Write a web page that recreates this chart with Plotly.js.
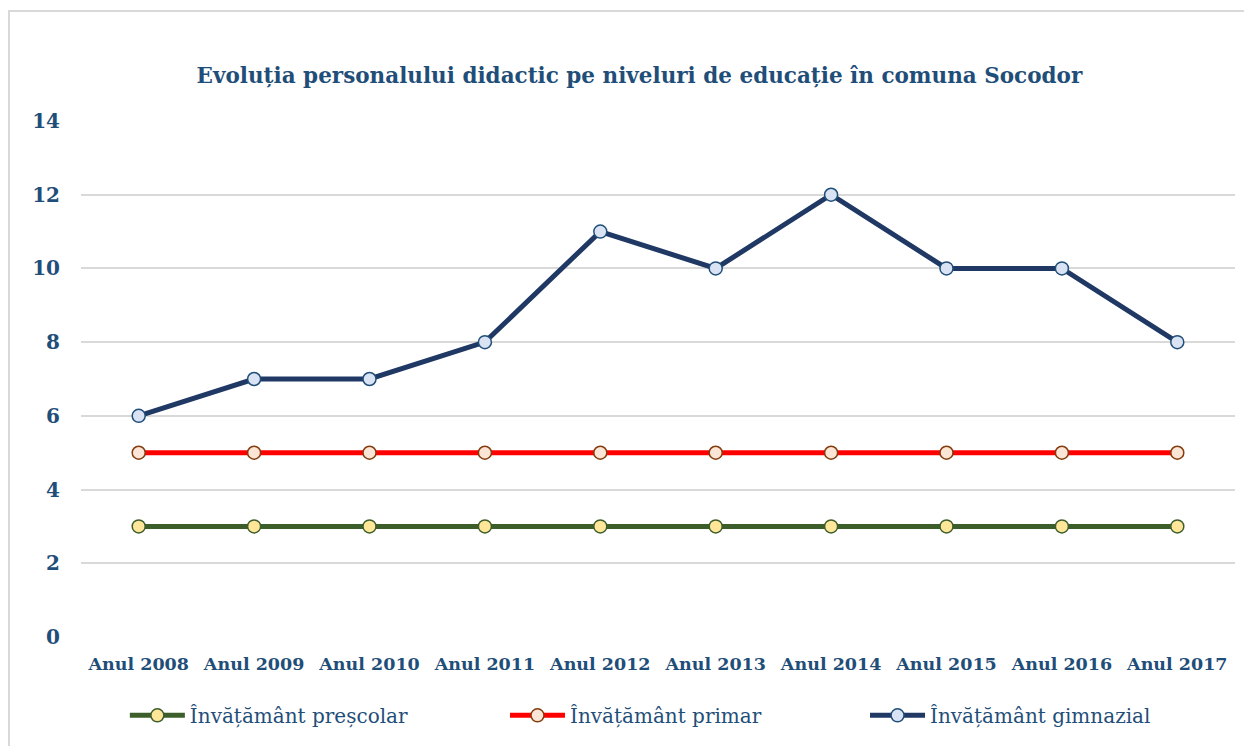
<!DOCTYPE html>
<html><head><meta charset="utf-8">
<script src="https://cdn.plot.ly/plotly-3.0.1.min.js"></script>
<style>body{margin:0;padding:0;background:#fff}#wrap{position:relative;width:1244px;height:746px}#chart{width:1244px;height:746px}#frame{position:absolute;left:8px;top:10px;width:1300px;height:800px;border-left:2px solid #d9d9d9;border-top:2px solid #d9d9d9;pointer-events:none}</style>
</head><body><div id="wrap"><div id="chart"></div><div id="frame"></div></div>
<script>
const categories = ["Anul 2008","Anul 2009","Anul 2010","Anul 2011","Anul 2012","Anul 2013","Anul 2014","Anul 2015","Anul 2016","Anul 2017"];
const prescolar = [3,3,3,3,3,3,3,3,3,3];
const primar = [5,5,5,5,5,5,5,5,5,5];
const gimnazial = [6,7,7,8,11,10,12,10,10,8];
const seriesNames = ["Învățământ preșcolar","Învățământ primar","Învățământ gimnazial"];
const titleText = "Evoluția personalului didactic pe niveluri de educație în comuna Socodor";
const serif = "DejaVu Serif, Liberation Serif, serif";
const blue = "#1F4E79";
function tr(y, name, lc, mfill, mline, lg){
  return {x:categories, y:y, name:name, type:"scatter", mode:"lines+markers", legend:lg,
    line:{color:lc, width:5},
    marker:{size:13, color:mfill, line:{color:mline, width:1.5}}};
}
const data = [
  tr(prescolar, seriesNames[0], "#3B5E2B", "#FFE699", "#3B5E2B", "legend"),
  tr(primar, seriesNames[1], "#FF0000", "#FBE5D6", "#843C0C", "legend2"),
  tr(gimnazial, seriesNames[2], "#1F3864", "#DAE3F3", "#1F4E79", "legend3")
];
function lg(x){
  return {orientation:"h", x:x, xanchor:"left", y:-0.114, yanchor:"top", itemwidth:55,
    font:{family:serif, size:20, color:blue}, bgcolor:"rgba(0,0,0,0)"};
}
const layout = {
  width:1244, height:746,
  margin:{l:81, r:9, t:121, b:109},
  paper_bgcolor:"#fff", plot_bgcolor:"#fff",
  title:{text:"<b>"+titleText+"</b>", font:{family:serif, size:21.5, color:blue}, x:0.514, xanchor:"center", y:0.899, yanchor:"middle"},
  xaxis:{type:"category", range:[-0.5,9.5], showgrid:false, zeroline:false, showline:false, ticks:"",
    tickfont:{family:serif, size:17.5, color:blue, weight:"bold"}, ticklabelstandoff:14},
  yaxis:{range:[0,14], dtick:2, showgrid:true, gridcolor:"#d9d9d9", gridwidth:1.5, zeroline:false, showline:false,
    tickfont:{family:serif, size:20, color:blue, weight:"bold"}, ticklabelstandoff:20},
  showlegend:true,
  legend:lg(0.038), legend2:lg(0.3674), legend3:lg(0.6794)
};
Plotly.newPlot("chart", data, layout, {displayModeBar:false});
</script></body></html>
